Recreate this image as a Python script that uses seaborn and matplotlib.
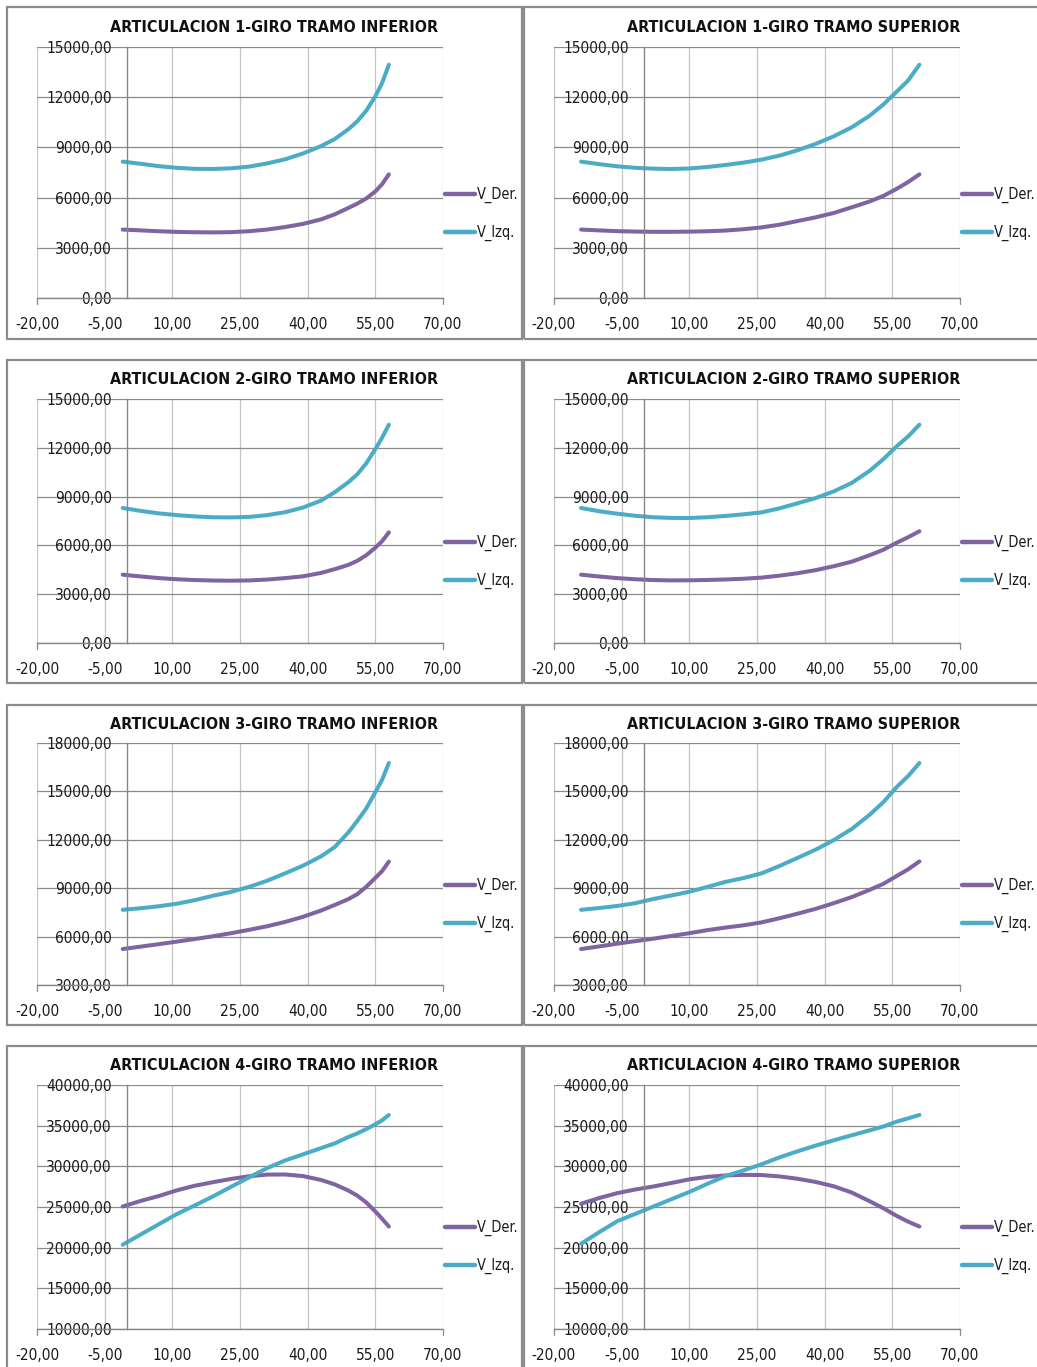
import glob
import numpy as np
import pandas as pd
import matplotlib
matplotlib.use("Agg")
import matplotlib.pyplot as plt
from matplotlib import font_manager
from matplotlib.font_manager import FontProperties
from matplotlib.patches import Rectangle
from matplotlib.ticker import FuncFormatter, FixedLocator
import seaborn as sns

# ---------------------------------------------------------------- data
# abscissas of the two families of panels (tramo inferior / tramo superior)
x_inf = [-1, 3, 7, 11, 15, 19, 23, 27, 31, 35, 39, 43, 46, 49, 51, 53, 55, 56.5, 58]
x_sup = [-14, -10, -6, -2, 2, 6, 10, 14, 18, 22, 26, 30, 34, 38, 42, 46, 50, 53, 56, 58.5, 61]

# Articulacion 1
a1_inf_der = [4090, 4040, 3990, 3950, 3930, 3920, 3935, 3990, 4090, 4240, 4430, 4700,
              5000, 5380, 5640, 5950, 6370, 6800, 7390]
a1_inf_izq = [8150, 8020, 7880, 7780, 7720, 7710, 7750, 7850, 8040, 8290, 8640, 9080,
              9500, 10080, 10560, 11200, 12050, 12850, 13940]
a1_sup_der = [4090, 4040, 3995, 3970, 3955, 3955, 3965, 3990, 4030, 4110, 4220, 4380,
              4600, 4820, 5080, 5420, 5770, 6100, 6530, 6930, 7390]
a1_sup_izq = [8150, 8000, 7870, 7780, 7730, 7710, 7740, 7830, 7950, 8090, 8270, 8510,
              8830, 9210, 9660, 10200, 10900, 11560, 12340, 13000, 13940]

# Articulacion 2
a2_inf_der = [4200, 4090, 3990, 3920, 3870, 3840, 3830, 3845, 3900, 3990, 4100, 4310,
              4540, 4800, 5050, 5400, 5860, 6260, 6800]
a2_inf_izq = [8300, 8120, 7970, 7860, 7780, 7730, 7720, 7750, 7860, 8040, 8330, 8760,
              9270, 9880, 10370, 11050, 11920, 12620, 13420]
a2_sup_der = [4200, 4090, 3990, 3920, 3870, 3850, 3855, 3875, 3905, 3950, 4020, 4140,
              4290, 4480, 4720, 5000, 5400, 5730, 6170, 6500, 6870]
a2_sup_izq = [8300, 8100, 7950, 7820, 7730, 7690, 7685, 7730, 7810, 7910, 8030, 8280,
              8590, 8910, 9320, 9840, 10590, 11300, 12100, 12700, 13420]

# Articulacion 3
a3_inf_der = [5230, 5380, 5530, 5690, 5850, 6020, 6210, 6420, 6640, 6910, 7230, 7620,
              7960, 8320, 8630, 9090, 9640, 10060, 10650]
a3_inf_izq = [7660, 7760, 7880, 8040, 8260, 8530, 8770, 9080, 9460, 9920, 10400, 10980,
              11550, 12450, 13170, 13950, 14950, 15720, 16760]
a3_sup_der = [5230, 5390, 5560, 5720, 5870, 6040, 6210, 6400, 6560, 6700, 6880, 7140,
              7420, 7720, 8070, 8450, 8900, 9270, 9760, 10170, 10660]
a3_sup_izq = [7660, 7770, 7900, 8070, 8330, 8550, 8780, 9080, 9390, 9630, 9920, 10380,
              10880, 11390, 11980, 12670, 13560, 14330, 15280, 15950, 16760]

# Articulacion 4
a4_inf_der = [25060, 25750, 26350, 27050, 27620, 28050, 28450, 28780, 28980, 29000, 28800,
              28320, 27780, 27030, 26400, 25550, 24450, 23550, 22600]
a4_inf_izq = [20360, 21620, 22880, 24130, 25200, 26300, 27480, 28640, 29780, 30720, 31480,
              32250, 32820, 33600, 34050, 34580, 35170, 35650, 36320]
a4_sup_der = [25400, 26100, 26700, 27150, 27520, 27950, 28400, 28700, 28880, 28950, 28930,
              28760, 28470, 28080, 27550, 26780, 25700, 24850, 23900, 23200, 22600]
a4_sup_izq = [20480, 21900, 23250, 24150, 25050, 25950, 26850, 27850, 28800, 29500, 30250,
              31100, 31850, 32550, 33200, 33820, 34430, 34900, 35500, 35900, 36320]

titles = [
    ["ARTICULACION 1-GIRO TRAMO INFERIOR", "ARTICULACION 1-GIRO TRAMO SUPERIOR"],
    ["ARTICULACION 2-GIRO TRAMO INFERIOR", "ARTICULACION 2-GIRO TRAMO SUPERIOR"],
    ["ARTICULACION 3-GIRO TRAMO INFERIOR", "ARTICULACION 3-GIRO TRAMO SUPERIOR"],
    ["ARTICULACION 4-GIRO TRAMO INFERIOR", "ARTICULACION 4-GIRO TRAMO SUPERIOR"],
]
series = [
    [(a1_inf_der, a1_inf_izq), (a1_sup_der, a1_sup_izq)],
    [(a2_inf_der, a2_inf_izq), (a2_sup_der, a2_sup_izq)],
    [(a3_inf_der, a3_inf_izq), (a3_sup_der, a3_sup_izq)],
    [(a4_inf_der, a4_inf_izq), (a4_sup_der, a4_sup_izq)],
]
y_ranges = [(0, 15000, 3000), (0, 15000, 3000), (3000, 18000, 3000), (10000, 40000, 5000)]
x_ticks = [-20, -5, 10, 25, 40, 55, 70]
legend_labels = ["V_Der."]
legend_labels.append("V_Izq.")

# ---------------------------------------------------------------- fonts
sns.set_style("white")


def find_font(patterns):
    files = [f.fname for f in font_manager.fontManager.ttflist]
    files += glob.glob("/usr/share/fonts/**/*.tt[fc]", recursive=True)
    files += glob.glob("/usr/share/fonts/**/*.otf", recursive=True)
    for pat in patterns:
        for fn in files:
            if pat.lower() in fn.lower().split("/")[-1]:
                return fn
    return None


reg_file = find_font(["LiberationSansNarrow-Regular", "DejaVuSansCondensed.ttf",
                      "NotoSans-Condensed.", "NotoSans-Condensed-Regular", "OpenSans-CondensedRegular",
                      "OpenSans_Condensed-Regular", "RobotoCondensed-Regular"])
bold_file = find_font(["LiberationSansNarrow-Bold.", "DejaVuSansCondensed-Bold.ttf",
                       "NotoSans-CondensedBold.", "OpenSans-CondensedBold",
                       "OpenSans_Condensed-Bold.", "RobotoCondensed-Bold."])


def fp_regular(size):
    if reg_file:
        return FontProperties(fname=reg_file, size=size)
    return FontProperties(family="Liberation Sans", size=size)


def fp_bold(size):
    if bold_file:
        return FontProperties(fname=bold_file, size=size)
    return FontProperties(family="Liberation Sans", weight="bold", size=size)


plt.rcParams["font.family"] = ["Liberation Sans", "DejaVu Sans"]

C_DER = "#8064A2"
C_IZQ = "#4BACC6"
GRID_H = "#8a8a8a"
GRID_V = "#c4c4c4"
AXIS_C = "#868686"
BORDER = "#8c8c8c"
TXT = "#1a1a1a"

W, H = 1037, 1367
fig = plt.figure(figsize=(W / 100, H / 100), dpi=100)
fig.patch.set_facecolor("white")
renderer = fig.canvas.get_renderer()


def fit_size(text, target_px, fp_maker, start=12.0):
    """Font size giving a rendered width of target_px."""
    t = fig.text(0, 0, text, fontproperties=fp_maker(start))
    w = t.get_window_extent(renderer).width
    t.remove()
    return start * target_px / w


tick_size = min(fit_size("15000,00", 66, fp_regular), 12.5)
legend_size = tick_size * 0.94
title_size = min(fit_size("ARTICULACION 1-GIRO TRAMO INFERIOR", 326, fp_bold), 15)

plot_cols = [(37, 443), (554, 960)]
plot_rows = [(47, 298), (399, 643), (743, 985), (1085, 1329)]
panel_cols = [(7, 522), (524, 1045)]
panel_rows = [(7, 339), (360, 683), (705, 1025), (1046, 1380)]
title_x = [274, 794]
title_y = [27, 379, 724, 1066]
legend_y = [214, 562, 905, 1247]
legend_x = [445, 962]


def fmt(v, _pos=None):
    return f"{v:.2f}".replace(".", ",")


for r in range(4):
    for c in range(2):
        # panel frame
        px0, px1 = panel_cols[c]
        py0, py1 = panel_rows[r]
        fig.patches.append(Rectangle((px0 / W, 1 - py1 / H), (px1 - px0) / W, (py1 - py0) / H,
                                     transform=fig.transFigure, fill=False,
                                     edgecolor=BORDER, linewidth=1.6, zorder=0))

        x0, x1 = plot_cols[c]
        y0, y1 = plot_rows[r]
        ax = fig.add_axes([x0 / W, 1 - y1 / H, (x1 - x0) / W, (y1 - y0) / H])
        ax.set_facecolor("none")

        xs = x_inf if c == 0 else x_sup
        der, izq = series[r][c]
        df = pd.DataFrame({"x": xs * 2, "v": list(der) + list(izq),
                           "serie": [legend_labels[0]] * len(xs) + [legend_labels[1]] * len(xs)})
        sns.lineplot(data=df, x="x", y="v", hue="serie", palette=[C_DER, C_IZQ],
                     linewidth=2.9, ax=ax, legend=True, sort=False)

        ymin, ymax, ystep = y_ranges[r]
        ax.set_xlim(-20, 70)
        ax.set_ylim(ymin, ymax)
        ax.xaxis.set_major_locator(FixedLocator(x_ticks))
        ax.yaxis.set_major_locator(FixedLocator(np.arange(ymin, ymax + 1, ystep)))
        ax.xaxis.set_major_formatter(FuncFormatter(fmt))
        ax.yaxis.set_major_formatter(FuncFormatter(fmt))
        ax.set_xlabel("")
        ax.set_ylabel("")

        ax.grid(False)
        for yv in np.arange(ymin, ymax + 1, ystep):
            ax.axhline(yv, color=GRID_H, linewidth=0.9, zorder=0.5)
        for xv in x_ticks:
            ax.axvline(xv, color=GRID_V, linewidth=0.9, zorder=0.4)

        for s in ["top", "right"]:
            ax.spines[s].set_visible(False)
        ax.spines["left"].set_position(("data", 0))
        ax.spines["left"].set_color(AXIS_C)
        ax.spines["left"].set_linewidth(1.0)
        ax.spines["bottom"].set_color(AXIS_C)
        ax.spines["bottom"].set_linewidth(1.0)
        ax.tick_params(axis="y", length=0, pad=11, labelcolor=TXT)
        ax.tick_params(axis="x", length=0, pad=13.5, labelcolor=TXT)
        for t in ax.get_yticklabels() + ax.get_xticklabels():
            t.set_fontproperties(fp_regular(tick_size))
        for t in ax.get_yticklabels():
            t.set_zorder(3)

        # outer tick marks at both ends of the horizontal axis
        for xa in (0.0, 1.0):
            ax.plot([xa, xa], [0, -0.025], transform=ax.transAxes, color=GRID_H,
                    linewidth=0.9, clip_on=False)

        leg = ax.legend(loc="center left",
                        bbox_to_anchor=(legend_x[c] / W, 1 - legend_y[r] / H),
                        bbox_transform=fig.transFigure, frameon=False,
                        prop=fp_regular(legend_size),
                        handlelength=2.1, handletextpad=0.1, labelspacing=1.5,
                        borderpad=0, borderaxespad=0)
        for line in leg.get_lines():
            line.set_linewidth(3.2)
        for t in leg.get_texts():
            t.set_color(TXT)

        fig.text(title_x[c] / W, 1 - title_y[r] / H, titles[r][c], ha="center", va="center",
                 fontproperties=fp_bold(title_size), color="#111111")

fig.savefig("out.png", dpi=100, facecolor="white")
